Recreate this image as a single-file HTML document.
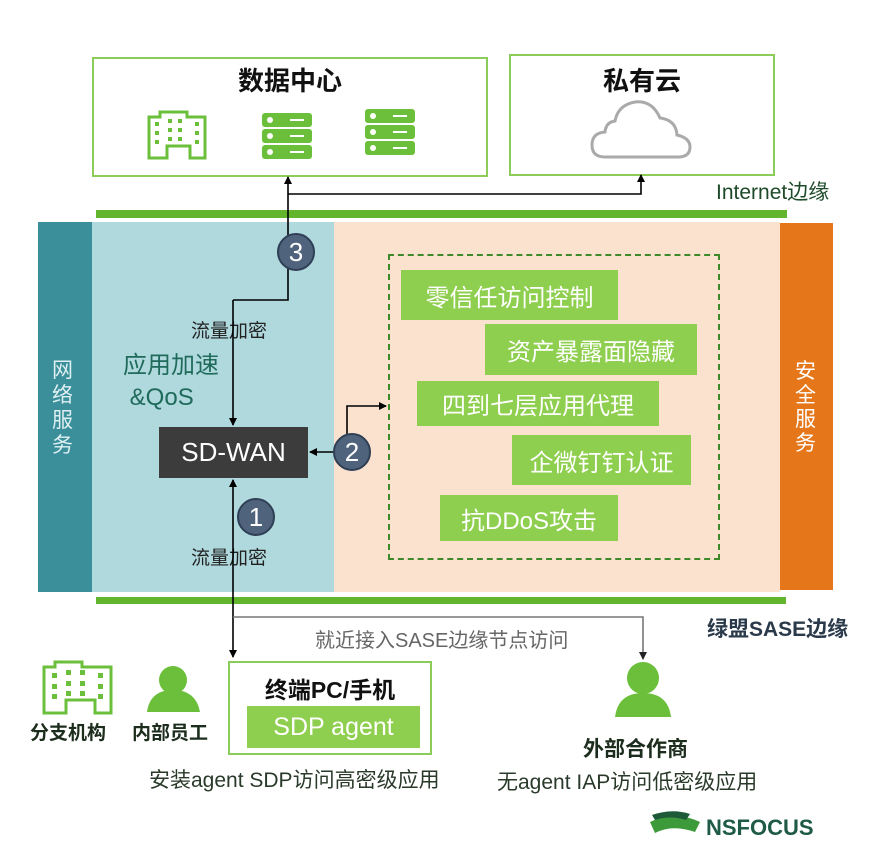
<!DOCTYPE html>
<html><head><meta charset="utf-8"><style>
body{margin:0;width:884px;height:848px;background:#fff;position:relative;overflow:hidden;font-family:"Liberation Sans","Noto Sans CJK SC",sans-serif}
.a{position:absolute}
.t{position:absolute;white-space:nowrap}
.g{position:absolute;background:#8fcf4f;color:#fff;font-size:24px;display:flex;align-items:center;justify-content:center}
</style></head><body>
<div class="a" style="left:92px;top:57px;width:392px;height:116px;border:2px solid #8ccc5a"></div>
<div class="a" style="left:509px;top:54px;width:262px;height:118px;border:2px solid #8ccc5a"></div>
<div class="t" style="left:92px;top:61px;width:396px;text-align:center;font-size:26px;font-weight:bold;color:#111">数据中心</div>
<div class="t" style="left:509px;top:61px;width:266px;text-align:center;font-size:26px;font-weight:bold;color:#111">私有云</div>
<div class="a" style="left:96px;top:210px;width:691px;height:8px;background:#64b52e"></div>
<div class="t" style="left:716px;top:176px;font-size:21px;color:#1f4a2a">Internet边缘</div>
<div class="a" style="left:38px;top:222px;width:54px;height:370px;background:#3a8f9a"></div>
<div class="a" style="left:92px;top:222px;width:242px;height:370px;background:#b0d9de"></div>
<div class="a" style="left:334px;top:222px;width:446px;height:370px;background:#fbe2cf"></div>
<div class="a" style="left:780px;top:223px;width:53px;height:367px;background:#e5761a"></div>
<div class="t" style="left:52px;top:358px;width:26px;font-size:21px;line-height:25px;color:#dff0f2;white-space:normal">网络服务</div>
<div class="t" style="left:795px;top:360px;width:26px;font-size:21px;line-height:24px;color:#fff;white-space:normal">安全服务</div>
<div class="a" style="left:96px;top:597px;width:690px;height:7px;background:#64b52e"></div>
<div class="t" style="left:707px;top:613px;font-size:21px;font-weight:bold;color:#2a3a4a">绿盟SASE边缘</div>
<div class="a" style="left:388px;top:254px;width:328px;height:302px;border:2px dashed #3d8a2a"></div>
<div class="g" style="left:401px;top:270px;width:217px;height:50px">零信任访问控制</div>
<div class="g" style="left:485px;top:324px;width:212px;height:51px">资产暴露面隐藏</div>
<div class="g" style="left:417px;top:381px;width:242px;height:45px">四到七层应用代理</div>
<div class="g" style="left:512px;top:435px;width:179px;height:50px">企微钉钉认证</div>
<div class="g" style="left:440px;top:495px;width:178px;height:46px">抗DDoS攻击</div>
<div class="a" style="left:159px;top:427px;width:149px;height:51px;background:#3c3c3c;color:#fff;font-size:26px;display:flex;align-items:center;justify-content:center">SD-WAN</div>
<div class="t" style="left:123px;top:350px;font-size:24px;line-height:32px;color:#1f6a5a">应用加速<br>&nbsp;&amp;QoS</div>
<div class="t" style="left:191px;top:316px;font-size:19px;color:#222">流量加密</div>
<div class="t" style="left:191px;top:543px;font-size:19px;color:#222">流量加密</div>
<svg class="a" style="left:0;top:0" width="884" height="848">
<defs><marker id="m" markerWidth="8" markerHeight="8" refX="7" refY="4" orient="auto" markerUnits="userSpaceOnUse"><path d="M0,0L8,4L0,8z" fill="#000"/></marker>
<marker id="mg" markerWidth="8" markerHeight="8" refX="7" refY="4" orient="auto" markerUnits="userSpaceOnUse"><path d="M0,0L8,4L0,8z" fill="#222"/></marker></defs>
<g fill="none" stroke="#000" stroke-width="1.6">
<polyline points="233,300 288,300 288,177" marker-end="url(#m)"/>
<polyline points="288,194 641,194 641,175" marker-end="url(#m)"/>
<polyline points="233,300 233,425" marker-end="url(#m)"/>
<polyline points="233,490 233,657" marker-end="url(#m)"/>
<polyline points="233,490 233,480" marker-end="url(#m)"/>
<polyline points="347,452 310,452" marker-end="url(#m)"/>
<polyline points="347,440 347,406 386,406" marker-end="url(#m)"/>
<polyline points="233,617 643,617 643,659" stroke="#777" marker-end="url(#mg)"/>
</g>
<g fill="#4f637c" stroke="#2f3f55" stroke-width="2">
<circle cx="296" cy="252" r="18"/><circle cx="352" cy="452" r="18"/><circle cx="256" cy="517" r="18"/></g>
<g fill="#fff" font-size="26" text-anchor="middle" font-family="Liberation Sans,sans-serif">
<text x="296" y="261">3</text><text x="352" y="461">2</text><text x="256" y="526">1</text></g>
<g fill="none" stroke="#6bbf3a" stroke-width="3">
<path d="M149,158V117H160V112H187V117H205V158H190V146H167V158Z"/>
<path d="M44,713V667H55V662H82V667H111V713H95V700H66V713Z"/></g>
<g fill="#6bbf3a">
<rect x="155" y="122" width="4" height="4"/><rect x="155" y="131" width="4" height="4"/><rect x="155" y="140" width="4" height="4"/>
<rect x="168" y="119" width="4" height="4"/><rect x="168" y="128" width="4" height="4"/><rect x="168" y="137" width="4" height="4"/>
<rect x="178" y="119" width="4" height="4"/><rect x="178" y="128" width="4" height="4"/><rect x="178" y="137" width="4" height="4"/>
<rect x="195" y="122" width="4" height="4"/><rect x="195" y="131" width="4" height="4"/><rect x="195" y="140" width="4" height="4"/>
<rect x="52" y="673" width="5" height="5"/><rect x="52" y="684" width="5" height="5"/><rect x="52" y="694" width="5" height="5"/>
<rect x="66" y="670" width="5" height="5"/><rect x="66" y="681" width="5" height="5"/><rect x="66" y="691" width="5" height="5"/>
<rect x="80" y="670" width="5" height="5"/><rect x="80" y="681" width="5" height="5"/><rect x="80" y="691" width="5" height="5"/>
<rect x="98" y="673" width="5" height="5"/><rect x="98" y="684" width="5" height="5"/><rect x="98" y="694" width="5" height="5"/>
<rect x="262" y="113" width="50" height="14" rx="3"/><rect x="262" y="129" width="50" height="14" rx="3"/><rect x="262" y="145" width="50" height="14" rx="3"/>
<rect x="365" y="109" width="50" height="14" rx="3"/><rect x="365" y="125" width="50" height="14" rx="3"/><rect x="365" y="141" width="50" height="14" rx="3"/>
<circle cx="173" cy="680" r="14"/><path d="M147,712Q150,690 173,690Q196,690 200,712Z"/>
<circle cx="643" cy="678" r="16"/><path d="M615,717Q618,693 643,693Q668,693 671,717Z"/>
</g>
<g fill="#fff"><circle cx="270" cy="120" r="3"/><circle cx="270" cy="136" r="3"/><circle cx="270" cy="152" r="3"/>
<circle cx="373" cy="116" r="3"/><circle cx="373" cy="132" r="3"/><circle cx="373" cy="148" r="3"/>
<rect x="290" y="119" width="14" height="2"/><rect x="290" y="135" width="14" height="2"/><rect x="290" y="151" width="14" height="2"/>
<rect x="393" y="115" width="14" height="2"/><rect x="393" y="131" width="14" height="2"/><rect x="393" y="147" width="14" height="2"/></g>
<path d="M605,157Q592,157 592,145Q592,133 605,132Q606,122 615,121Q618,105 635,102Q652,100 660,118Q676,120 677,135Q690,138 690,147Q690,157 678,157Z" fill="none" stroke="#aaa" stroke-width="3"/>
<path d="M650,822Q675,810 700,822L695,832Q672,824 655,833Z" fill="#3d9a3a"/>
<path d="M652,815Q672,808 690,814L686,820Q670,815 655,820Z" fill="#1e5a3a"/>
<text x="706" y="835" font-size="22" font-weight="bold" fill="#1e5a45" font-family="Liberation Sans,sans-serif">NSFOCUS</text>
</svg>
<div class="a" style="left:228px;top:661px;width:200px;height:90px;border:2px solid #8ccc5a"></div>
<div class="t" style="left:228px;top:671px;width:204px;text-align:center;font-size:23px;font-weight:bold;color:#111">终端PC/手机</div>
<div class="g" style="left:247px;top:706px;width:173px;height:42px;font-size:25px">SDP agent</div>
<div class="t" style="left:30px;top:718px;font-size:19px;font-weight:bold;color:#1d2d1d">分支机构</div>
<div class="t" style="left:132px;top:718px;font-size:19px;font-weight:bold;color:#1d2d1d">内部员工</div>
<div class="t" style="left:149px;top:764px;font-size:21px;color:#2a3a2a">安装agent SDP访问高密级应用</div>
<div class="t" style="left:583px;top:733px;font-size:21px;font-weight:bold;color:#1d2d1d">外部合作商</div>
<div class="t" style="left:497px;top:766px;font-size:21px;color:#2a3a2a">无agent IAP访问低密级应用</div>
<div class="t" style="left:315px;top:624px;font-size:20px;color:#666">就近接入SASE边缘节点访问</div>
</body></html>
